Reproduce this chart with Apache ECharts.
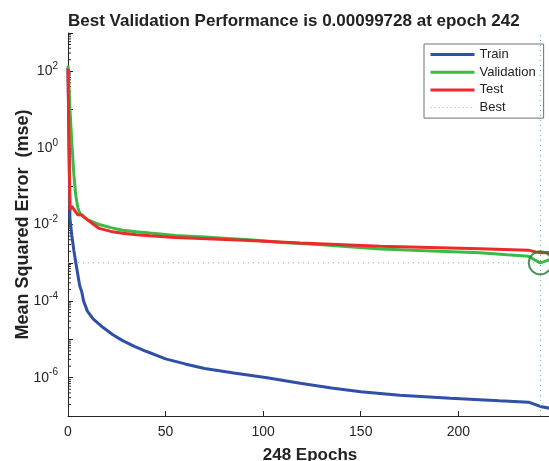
<!DOCTYPE html>
<html>
<head>
<meta charset="utf-8">
<script src="https://cdn.jsdelivr.net/npm/echarts@6/dist/echarts.min.js"></script>
<style>
html,body{margin:0;padding:0;background:#fff;}
#chart{width:549px;height:461px;}
</style>
</head>
<body>
<div id="chart"></div>
<script>
// ---- data ----
const titleText = 'Best Validation Performance is 0.00099728 at epoch 242';
const xAxisName = '248 Epochs';
const yAxisName = 'Mean Squared Error  (mse)';
const seriesNames = ['Train', 'Validation', 'Test', 'Best'];

const trainEpochs = [0,1,2,3,4,5,6,7,8,10,13,18,23,28,34,40,50,60,70,85,102,119,135,150,170,196,221,236,242,248];
const trainMse = [120,0.0141,0.0050,0.00209,0.00100,0.00050,0.000251,0.000178,0.000100,5.4e-5,3.4e-5,2.04e-5,1.32e-5,9.3e-6,6.6e-6,4.9e-6,3.1e-6,2.29e-6,1.74e-6,1.32e-6,1.0e-6,7.2e-7,5.4e-7,4.3e-7,3.5e-7,2.9e-7,2.5e-7,2.3e-7,1.78e-7,1.55e-7];

const valEpochs = [0,1,2,3,4,5,6,8,10,13,16,22,28,35,42,55,68,80,93,110,130,160,190,211,225,236,238,240,242,244,246,248];
const valMse = [141,10,1.26,0.20,0.056,0.028,0.020,0.0158,0.0135,0.0115,0.0100,0.0083,0.0071,0.0065,0.0060,0.0052,0.0048,0.0044,0.0040,0.0034,0.00295,0.00229,0.0020,0.00182,0.00162,0.00148,0.00129,0.00112,0.00099728,0.00107,0.00117,0.00129];

const testEpochs = [0,1,2,3,4,5,6,7,8,10,13,16,22,28,35,42,55,68,93,119,160,211,236,240,242,248];
const testMse = [118,0.024,0.030,0.025,0.021,0.018,0.020,0.0178,0.0158,0.0132,0.0102,0.0079,0.0066,0.0059,0.0054,0.0051,0.0046,0.0043,0.0038,0.0033,0.0027,0.00234,0.00214,0.0019,0.00182,0.00186];

const bestEpoch = 242;
const bestPerf = 0.00099728;

const xMin = 0, xMax = 248, xInterval = 50;
const yMin = 1e-7, yMax = 1e3;
const minorMultipliers = [2,3,4,5,6,7,8,9];
const minorDecades = [-7,-6,-5,-4,-3,-2,-1,0,1,2];

// ---- chart ----
const FONT = 'Liberation Sans, Arial, Helvetica, sans-serif';
const AX = '#262626';
const pair = (xs, ys) => xs.map((x, i) => [x, ys[i]]);
const minorTickData = [];
minorDecades.forEach(d => minorMultipliers.forEach(m => minorTickData.push([0, m * Math.pow(10, d)])));

const chart = echarts.init(document.getElementById('chart'), null, {renderer: 'canvas'});
chart.setOption({
  animation: false,
  backgroundColor: '#fff',
  title: {
    text: titleText,
    left: 63, top: 8,
    textStyle: {fontFamily: FONT, fontWeight: 'bold', fontSize: 17, color: '#222'}
  },
  grid: {left: 68, top: 33, right: -3, bottom: 45, containLabel: false, outerBoundsMode: 'none'},
  legend: {
    data: [
      {name: seriesNames[0], lineStyle: {width: 3}},
      {name: seriesNames[1], lineStyle: {width: 3}},
      {name: seriesNames[2], lineStyle: {width: 3}},
      {name: seriesNames[3], lineStyle: {width: 1, type: [1, 3]}}
    ],
    orient: 'vertical',
    left: 424, top: 44,
    itemWidth: 44, itemHeight: 14, itemGap: 4.7,
    padding: [4, 8, 4, 5],
    backgroundColor: '#fff',
    borderColor: '#707070', borderWidth: 1,
    itemStyle: {opacity: 0},
    textStyle: {fontFamily: FONT, fontSize: 13, color: '#222'},
    selectedMode: false
  },
  xAxis: {
    type: 'value', min: xMin, max: xMax, interval: xInterval,
    name: xAxisName, nameLocation: 'middle', nameGap: 31, nameMoveOverlap: false,
    nameTextStyle: {fontFamily: FONT, fontWeight: 'bold', fontSize: 17, color: '#222'},
    axisLine: {show: true, lineStyle: {color: AX, width: 1}},
    axisTick: {show: true, inside: true, length: 5, lineStyle: {color: AX}},
    axisLabel: {fontFamily: FONT, fontSize: 14, color: AX, margin: 9, showMaxLabel: false},
    splitLine: {show: false}
  },
  yAxis: {
    type: 'log', logBase: 10, min: yMin, max: yMax, interval: 1,
    name: yAxisName, nameLocation: 'middle', nameGap: 36, nameMoveOverlap: false,
    nameTextStyle: {fontFamily: FONT, fontWeight: 'bold', fontSize: 18, color: '#222'},
    axisLine: {show: true, lineStyle: {color: AX, width: 1}},
    axisTick: {show: true, inside: true, length: 5, lineStyle: {color: AX}},
    axisLabel: {
      margin: 10,
      formatter: function (v) {
        const e = Math.round(Math.log10(v));
        if (e % 2 !== 0) return '';
        return '{b|10}{s|' + e + '}';
      },
      rich: {
        b: {fontFamily: FONT, fontSize: 14, color: AX, lineHeight: 20},
        s: {fontFamily: FONT, fontSize: 10, color: AX, verticalAlign: 'top', lineHeight: 20}
      }
    },
    splitLine: {show: false}
  },
  series: [
    {
      name: 'Train', type: 'line', data: pair(trainEpochs, trainMse),
      symbol: 'none', lineStyle: {color: '#3050a8', width: 3}, itemStyle: {color: '#3050a8'}, z: 3
    },
    {
      name: 'Validation', type: 'line', data: pair(valEpochs, valMse),
      symbol: 'none', lineStyle: {color: '#3cba46', width: 3}, itemStyle: {color: '#3cba46'}, z: 4
    },
    {
      name: 'Test', type: 'line', data: pair(testEpochs, testMse),
      symbol: 'none', lineStyle: {color: '#ec2a2a', width: 3}, itemStyle: {color: '#ec2a2a'}, z: 5
    },
    {
      name: 'Best', type: 'line', data: [[xMin, bestPerf], [bestEpoch, bestPerf]],
      symbol: 'none', lineStyle: {color: '#6dbb9c', width: 1, type: [1, 4]}, itemStyle: {color: '#6dbb9c'}, z: 2,
      markLine: {
        silent: true, symbol: 'none', label: {show: false},
        lineStyle: {color: '#6dbb9c', width: 1, type: [1, 4]},
        data: [{xAxis: bestEpoch}]
      }
    },
    {
      name: 'bestCircle', type: 'scatter', data: [[bestEpoch, bestPerf]],
      symbol: 'circle', symbolSize: 23, silent: true, z: 6,
      itemStyle: {color: 'rgba(0,0,0,0)', borderColor: '#1e7d34', borderWidth: 2}
    },
    {
      name: 'minorTicks', type: 'custom', data: minorTickData, silent: true, z: 1,
      encode: {x: 0, y: 1},
      renderItem: function (params, api) {
        const p = api.coord([api.value(0), api.value(1)]);
        return {type: 'line', shape: {x1: p[0], y1: p[1], x2: p[0] + 3, y2: p[1]}, style: {stroke: AX, lineWidth: 1}};
      }
    }
  ]
});
</script>
</body>
</html>
